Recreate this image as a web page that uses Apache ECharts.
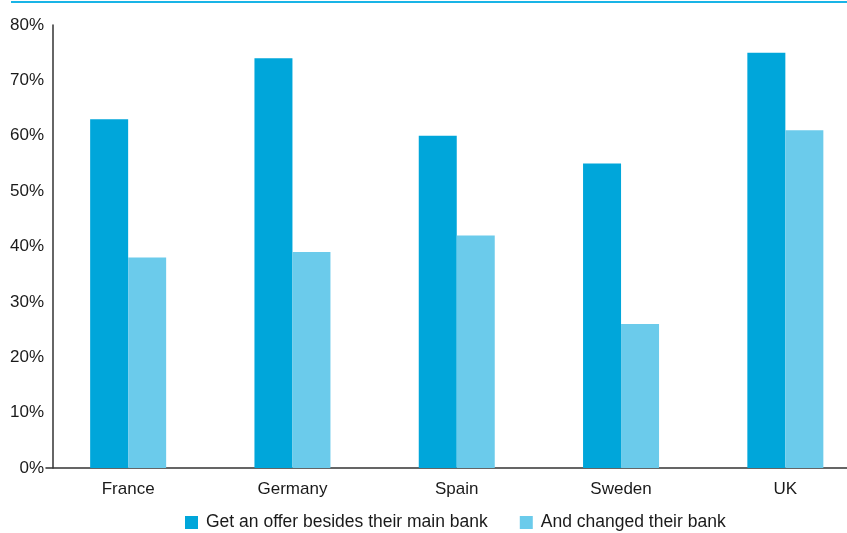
<!DOCTYPE html>
<html>
<head>
<meta charset="utf-8">
<script src="https://cdn.jsdelivr.net/npm/echarts@6/dist/echarts.min.js"></script>
<style>
  html, body { margin: 0; padding: 0; background: #fff; }
  #chart { width: 847px; height: 533px; }
</style>
</head>
<body>
<div id="chart"></div>
<script>
// Share of customers per country (percent)
const countries = ['France', 'Germany', 'Spain', 'Sweden', 'UK'];
const gotOffer = [63, 74, 60, 55, 75];
const changedBank = [38, 39, 42, 26, 61];
const seriesNames = ['Get an offer besides their main bank', 'And changed their bank'];
const yTicks = { min: 0, max: 80, interval: 10 };

const FONT = '"Liberation Sans", Arial, sans-serif';
const chart = echarts.init(document.getElementById('chart'));

chart.setOption({
  animation: false,
  backgroundColor: '#ffffff',
  color: ['#00A6DA', '#6BCBEB'],
  graphic: [{
    type: 'line',
    shape: { x1: 11, y1: 2, x2: 847, y2: 2 },
    style: { stroke: '#19B4E6', lineWidth: 2 }
  }],
  grid: {
    left: 46, top: 25, width: 821.5, height: 443,
    containLabel: false, outerBoundsMode: 'none'
  },
  legend: {
    left: 185,
    top: 512.5,
    padding: 0,
    itemWidth: 13,
    itemHeight: 13,
    itemGap: 32,
    icon: 'rect',
    textStyle: { fontFamily: FONT, fontSize: 17.5, lineHeight: 20, color: '#1a1a1a', padding: [0, 0, 0, 3] },
    data: seriesNames
  },
  xAxis: {
    type: 'category',
    data: countries,
    boundaryGap: true,
    axisLine: { lineStyle: { color: '#333', width: 1.5 } },
    axisTick: { show: false },
    axisLabel: { fontFamily: FONT, fontSize: 17, color: '#1a1a1a', margin: 13 }
  },
  yAxis: {
    type: 'value',
    min: yTicks.min,
    max: yTicks.max,
    interval: yTicks.interval,
    offset: -7,
    axisLine: { show: true, lineStyle: { color: '#333', width: 1.5 } },
    axisTick: { show: false },
    splitLine: { show: false },
    axisLabel: {
      fontFamily: FONT, fontSize: 17, color: '#1a1a1a', margin: 9,
      formatter: v => v + '%'
    }
  },
  series: [
    { name: seriesNames[0], type: 'bar', data: gotOffer, barWidth: 38, barGap: '0%' },
    { name: seriesNames[1], type: 'bar', data: changedBank, barWidth: 38, barGap: '0%' }
  ]
});
</script>
</body>
</html>
